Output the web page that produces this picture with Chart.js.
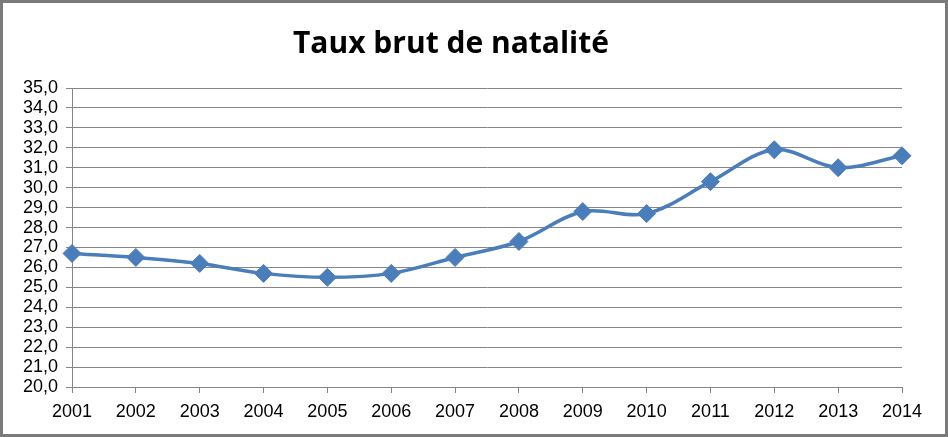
<!DOCTYPE html>
<html>
<head>
<meta charset="utf-8">
<script src="https://cdn.jsdelivr.net/npm/chart.js@4/dist/chart.umd.min.js"></script>
<style>
  body { margin: 0; background: #fff; }
  #wrap { width: 948px; height: 437px; position: relative; }
</style>
</head>
<body>
<div id="wrap"><canvas id="natalityChart" width="948" height="437"></canvas></div>
<script>
const years = ['2001', '2002', '2003', '2004', '2005', '2006', '2007', '2008', '2009', '2010', '2011', '2012', '2013', '2014'];
const birthRate = [26.7, 26.5, 26.2, 25.7, 25.5, 25.7, 26.5, 27.3, 28.8, 28.7, 30.3, 31.9, 31.0, 31.6];
const yMin = 20;
const yMax = 35;

const axisFont = { family: 'Liberation Sans Narrow, Arial Narrow, Liberation Sans, sans-serif', size: 18 };

// frame around the whole picture
const framePlugin = {
    id: 'frame',
    afterDraw(chart) {
        const ctx = chart.ctx;
        ctx.save();
        ctx.strokeStyle = '#7a7a7a';
        ctx.lineWidth = 3;
        ctx.strokeRect(1.5, 1.5, chart.width - 3, chart.height - 3);
        ctx.restore();
    }
};

const ctx = document.getElementById('natalityChart').getContext('2d');
new Chart(ctx, {
    type: 'line',
    data: {
        labels: years,
        datasets: [{
            label: 'Taux brut de natalité',
            data: birthRate,
            borderColor: '#4a7ebb',
            backgroundColor: '#4a7ebb',
            borderWidth: 3.5,
            tension: 0.35,
            pointStyle: 'rectRot',
            pointRadius: 9,
            pointHoverRadius: 9,
            pointBorderWidth: 1
        }]
    },
    options: {
        responsive: false,
        animation: false,
        layout: { padding: { left: 0, right: 46, top: 0, bottom: 0 } },
        plugins: {
            legend: { display: false },
            tooltip: { enabled: false },
            title: {
                display: true,
                text: 'Taux brut de natalité',
                color: '#000',
                font: { family: 'Open Sans, Noto Sans, sans-serif', size: 30, weight: 'bold' },
                padding: { top: 26, bottom: 26 }
            }
        },
        scales: {
            x: {
                offset: false,
                grid: { drawOnChartArea: false, drawTicks: true, tickLength: 6, color: '#868686' },
                border: { color: '#868686' },
                ticks: { color: '#000', font: axisFont, padding: 8, maxRotation: 0, autoSkip: false },
                afterFit(scale) { scale.height = 50; }
            },
            y: {
                min: yMin,
                max: yMax,
                grid: { color: '#868686', tickLength: 6 },
                border: { color: '#868686' },
                ticks: {
                    stepSize: 1,
                    autoSkip: false,
                    color: '#000',
                    font: axisFont,
                    padding: 8,
                    callback: (v) => v.toFixed(1).replace('.', ',')
                },
                afterFit(scale) { scale.width = 72; }
            }
        }
    },
    plugins: [framePlugin]
});
</script>
</body>
</html>
